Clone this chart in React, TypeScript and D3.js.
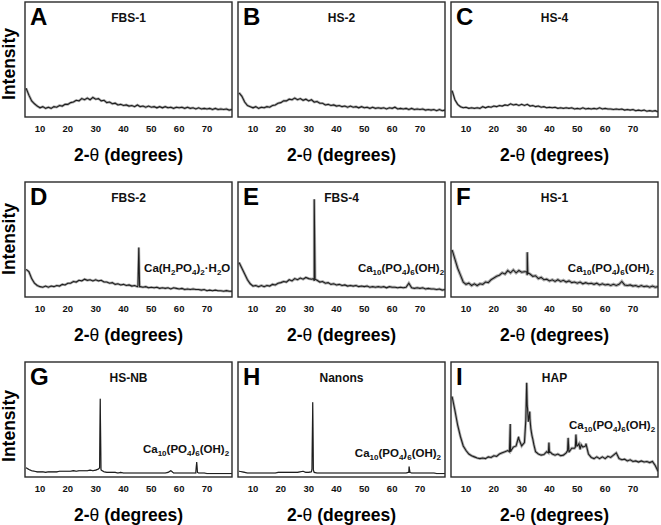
import * as d3 from "d3";
import React from "react";

// 2-theta grid for the background traces (1 degree steps)
const twoTheta = d3.range(5, 80);
const xTicks = [10, 20, 30, 40, 50, 60, 70];

// intensity in % of panel height
const fbs1 = [
	25, 19, 14, 11.5, 9.5, 8, 9, 7.5, 8.5, 7.5,
	9, 8.5, 10, 9.5, 11, 11, 12.5, 13, 14.5, 14,
	16, 15, 16.5, 15, 17, 15.5, 16, 14, 14.5, 12.5,
	13, 11.5, 12, 10.5, 11, 10, 10.5, 9.5, 10, 9,
	10.5, 9, 9.5, 8.5, 9.5, 8.5, 9, 8, 9, 8,
	9, 8, 8.5, 7.5, 8.5, 8, 8.5, 7.5, 8.5, 7.5,
	8, 7, 8, 7, 7.5, 7, 7.5, 6.5, 7.5, 6.5,
	7, 6.5, 7, 6, 6.5,
];
const hs2 = [
	21, 18, 13, 10, 9, 8, 9, 7.5, 8.5, 8,
	9, 8.5, 10, 10.5, 12, 12.5, 14, 14, 15.5, 15,
	16.5, 15, 16, 14.5, 15.5, 14, 15, 13, 13.5, 12,
	12, 10.5, 11, 10, 10.5, 9.5, 10, 9, 9.5, 8.5,
	9.5, 8.5, 9, 8, 9, 8, 8.5, 7.5, 8.5, 7.5,
	8, 7.5, 8, 7, 8, 7.5, 8.5, 7, 7.5, 7,
	7.5, 6.5, 7.5, 6.5, 7, 6.5, 7, 6, 6.5, 6,
	6.5, 5.5, 6.5, 5.5, 6,
];
const hs4 = [
	23, 15, 11, 9, 8, 8.5, 7.5, 8, 7.5, 8,
	7.5, 9, 8, 9, 8.5, 9.5, 9, 10, 9.5, 10.5,
	10, 11.5, 10.5, 11, 10, 11, 10, 11, 9.5, 10,
	9, 9.5, 8.5, 9, 8, 8.5, 8, 8.5, 7.5, 8,
	7.5, 8, 7.5, 8, 7, 7.5, 7, 8, 7, 7.5,
	7, 7.5, 7, 8, 7, 7.5, 7, 7, 6.5, 7,
	6.5, 7, 6, 6.5, 6, 6.5, 5.5, 6, 5.5, 6,
	5, 5.5, 5, 5.5, 4.5,
];
const fbs2 = [
	24, 22, 16, 12, 10, 9, 8.5, 9.5, 8.5, 9.5,
	9, 10, 9.5, 11, 10.5, 12, 12, 13.5, 13, 14.5,
	14, 15.5, 14.5, 15, 14, 15, 14, 14.5, 13, 13,
	12, 12.5, 11, 11.5, 10.5, 11, 10, 10.5, 9.5, 10,
	9, 9, 8.5, 9, 8, 8.5, 8, 8.5, 7.5, 8,
	7.5, 8, 7, 8, 7.5, 7, 7.5, 6.5, 7, 6.5,
	7, 6.5, 6.5, 6, 6.5, 5.5, 6, 5.5, 6, 5.5,
	5.5, 5, 5.5, 5, 5,
];
const fbs4 = [
	30, 25, 20, 15, 11.5, 9.5, 10, 9, 10, 9,
	10, 9.5, 11, 10.5, 12, 12.5, 13.5, 13, 15, 14,
	16, 15, 16.5, 15.5, 17, 16, 15.5, 14, 14.5, 13,
	13.5, 12, 12.5, 11, 11.5, 10.5, 11, 10, 10.5, 9.5,
	10, 9.5, 10, 9, 9.5, 9, 9.5, 8.5, 9, 8.5,
	9, 8.5, 9, 8, 9, 8.5, 8.5, 8, 8.5, 8,
	8.5, 12, 8, 7.5, 8, 7.5, 8, 7, 7.5, 7,
	7, 6.5, 7, 6, 6.5,
];
const hs1 = [
	41, 33, 25, 19, 13, 11, 12, 10, 11.5, 10,
	11.5, 11, 13, 12.5, 15, 16.5, 18, 19, 21, 20,
	23, 21, 23.5, 21, 23, 21.5, 22, 19, 20, 18,
	18.5, 16, 17, 15, 15.5, 14, 15, 13.5, 15, 13.5,
	14.5, 13, 14, 12.5, 13, 12, 13, 11.5, 12.5, 11.5,
	12, 11, 12, 10.5, 11.5, 10.5, 11, 10, 11, 10,
	11, 13.5, 10.5, 10, 10.5, 9.5, 10, 9, 10, 9,
	9.5, 8.5, 9.5, 8.5, 9,
];
const hsNb = [
	8, 6.5, 5.5, 5, 4.5, 4.5, 4.5, 4, 4.5, 4.5,
	4.5, 4.5, 5, 5, 5, 5, 5, 5.5, 5, 5.5,
	5.5, 5.5, 5.5, 6, 5.5, 6, 7, 6, 4.5, 4,
	4, 4, 4, 3.5, 4, 3.5, 3.5, 3.5, 3.5, 3.5,
	3.5, 3.5, 3.5, 3.5, 3.5, 3.5, 3.5, 3.5, 3.5, 3.5,
	3.5, 4, 5.5, 3.5, 3.5, 3.5, 3.5, 3.5, 3.5, 3.5,
	3.5, 3.5, 3.5, 3.5, 3.5, 3, 3, 3, 3, 3,
	3, 3, 3, 3, 3,
];
const nanons = [
	5, 4.5, 4, 3.5, 3.5, 3.5, 3.5, 3.5, 3.5, 3.5,
	3.5, 3.5, 3.5, 3.5, 4, 4, 4, 4, 4, 4,
	4, 4, 4.5, 5, 4, 4, 4.5, 4, 3.5, 3.5,
	3.5, 3.5, 3.5, 3.5, 3.5, 3.5, 3.5, 3.5, 3.5, 3.5,
	3.5, 3.5, 3.5, 3.5, 3.5, 3.5, 3.5, 3.5, 3.5, 3.5,
	3.5, 3.5, 3.5, 3.5, 3.5, 3.5, 3.5, 3.5, 3.5, 3.5,
	3.5, 4, 3.5, 3.5, 3.5, 3.5, 3.5, 3.5, 3.5, 3.5,
	3.5, 3, 3, 3, 3,
];
const hap = [
	70, 58, 45, 35, 27, 23, 20, 18.5, 17.5, 16.5,
	16, 16.5, 16, 17.5, 17, 18.5, 18, 20, 21, 22,
	23, 22, 26, 27, 33, 27, 30, 62, 50, 33,
	22, 20, 19, 19.5, 22, 21, 20, 19, 20, 18.5,
	19, 21, 22, 25, 25, 27, 24, 26, 27, 20,
	17, 16, 17.5, 16, 17.5, 16, 18, 17, 19, 21,
	16, 15, 15.5, 14, 15, 13.5, 14, 13, 14, 13,
	13.5, 12.5, 13.5, 10, 5,
];

// sharp reflections [2-theta, intensity]
const fbs2Peaks = [[45.2, 9.5], [45.5, 43], [45.8, 9]];
const fbs4Peaks = [[31.7, 16], [32, 85], [32.3, 15.5]];
const hs1Peaks = [[31.8, 22], [32, 39], [32.2, 21]];
const hsNbPeaks = [[31.4, 8], [31.65, 68], [31.9, 7], [66, 4], [66.3, 13], [66.6, 4]];
const nanonsPeaks = [[31.2, 7], [31.45, 65], [31.7, 6], [65.8, 4], [66.1, 9], [66.4, 4]];
const hapPeaks = [
	[25.6, 22], [25.9, 46], [26.2, 23], [28.9, 35], [31.5, 50], [31.8, 82], [32.1, 60],
	[32.4, 48], [32.9, 57], [33.3, 42], [33.7, 36], [34.4, 28], [39.6, 21], [39.8, 30],
	[40.1, 22], [46.5, 23], [46.7, 34], [47.1, 22], [49.3, 26], [49.5, 37], [49.8, 27],
	[50.6, 29], [51.4, 28], [53.1, 29],
];

const letters = ["A", "B", "C", "D", "E", "F", "G", "H", "I"];
const titles = ["FBS-1", "HS-2", "HS-4", "FBS-2", "FBS-4", "HS-1", "HS-NB", "Nanons", "HAP"];
const traces = [fbs1, hs2, hs4, fbs2, fbs4, hs1, hsNb, nanons, hap];
const peaks = [[], [], [], fbs2Peaks, fbs4Peaks, hs1Peaks, hsNbPeaks, nanonsPeaks, hapPeaks];
// phase label per panel, anchored at [2-theta, intensity]
const notes: ([string, number, number] | null)[] = [
	null, null, null,
	["hydrate", 47.4, 21.7], ["hap", 47.7, 21.7], ["hap", 46.6, 21.7],
	["hap", 47, 20.9], ["hap", 46.6, 17.4], ["hap", 47, 41.7],
];
// how noisy the raw scan looks (halo width)
const noise = [2.6, 2.6, 2.4, 2.6, 2.8, 3.2, 1.2, 1.2, 2.8];

const colLeft = [25, 238, 451];
const rowTop = [2, 182, 362];
const pw = 207;
const ph = 115;
const intensityY = [64, 239, 426];
const font = "'Liberation Sans', Arial, Helvetica, sans-serif";

// formula pieces: [text, isSubscript]
const hydrateParts: [string, boolean][] = [
	["Ca(H", false], ["2", true], ["PO", false], ["4", true], [")", false], ["2", true],
	["·H", false], ["2", true], ["O", false],
];
const hapParts: [string, boolean][] = [
	["Ca", false], ["10", true], ["(PO", false], ["4", true], [")", false], ["6", true],
	["(OH)", false], ["2", true],
];

const Note = ({ kind, x, y }: { kind: string; x: number; y: number }) => {
	const parts = kind === "hydrate" ? hydrateParts : hapParts;
	return (
		<text x={x} y={y} fontSize={11.5} fontWeight="bold" fontFamily={font} fill="#111">
			{parts.map(([t, sub], k) => {
				const prevSub = k > 0 && parts[k - 1][1];
				const dy = sub ? 3 : prevSub ? -3 : 0;
				return (
					<tspan key={k} dy={dy} fontSize={sub ? 8 : 11.5}>
						{t}
					</tspan>
				);
			})}
		</text>
	);
};

const Panel = ({ i }: { i: number }) => {
	const left = colLeft[i % 3];
	const top = rowTop[Math.floor(i / 3)];
	const x = d3.scaleLinear().domain([4.6, 79]).range([left, left + pw]);
	const y = d3.scaleLinear().domain([0, 100]).range([top + ph, top]);
	const pts = twoTheta
		.map((t, k) => [t, traces[i][k]])
		.concat(peaks[i])
		.sort((a, b) => a[0] - b[0]);
	const line = d3
		.line<number[]>()
		.x((d) => x(d[0]))
		.y((d) => y(d[1]));
	const d = line(pts) ?? "";
	const note = notes[i];
	const clipId = `clip${i}`;
	return (
		<g>
			<clipPath id={clipId}>
				<rect x={left} y={top} width={pw} height={ph} />
			</clipPath>
			<g clipPath={`url(#${clipId})`}>
				<path d={d} fill="none" stroke="#8a8a8a" strokeWidth={noise[i]} strokeOpacity={0.7} />
				<path d={d} fill="none" stroke="#1e1e1e" strokeWidth={1.1} />
			</g>
			<rect x={left} y={top} width={pw} height={ph} fill="none" stroke="#2a2a2a" strokeWidth={1.4} />
			<text x={left + 5} y={top + 23} fontSize={24} fontWeight="bold" fontFamily={font} fill="#000">
				{letters[i]}
			</text>
			<text x={left + pw / 2} y={top + 20} fontSize={12} fontWeight="bold" fontFamily={font} textAnchor="middle" fill="#111">
				{titles[i]}
			</text>
			{note && <Note kind={note[0]} x={x(note[1])} y={y(note[2])} />}
			{xTicks.map((t) => (
				<text key={t} x={x(t)} y={top + ph + 14.5} fontSize={9.5} fontWeight="bold" fontFamily={font} textAnchor="middle" fill="#111">
					{t}
				</text>
			))}
			<text x={left + pw / 2} y={top + ph + 44} fontSize={17.5} fontWeight="bold" fontFamily={font} textAnchor="middle" fill="#000">
				2-<tspan fontWeight="normal">θ</tspan> (degrees)
			</text>
		</g>
	);
};

const App = () => (
	<svg width={661} height={525} style={{ position: "absolute", left: 0, top: 0, background: "#fff" }}>
		<rect width={661} height={525} fill="#fff" />
		{rowTop.map((_, r) => (
			<text
				key={r}
				transform={`translate(15,${intensityY[r]}) rotate(-90)`}
				textAnchor="middle"
				fontSize={17.5}
				fontWeight="bold"
				fontFamily={font}
				fill="#000"
			>
				Intensity
			</text>
		))}
		{letters.map((_, i) => (
			<Panel key={i} i={i} />
		))}
	</svg>
);

export default App;
